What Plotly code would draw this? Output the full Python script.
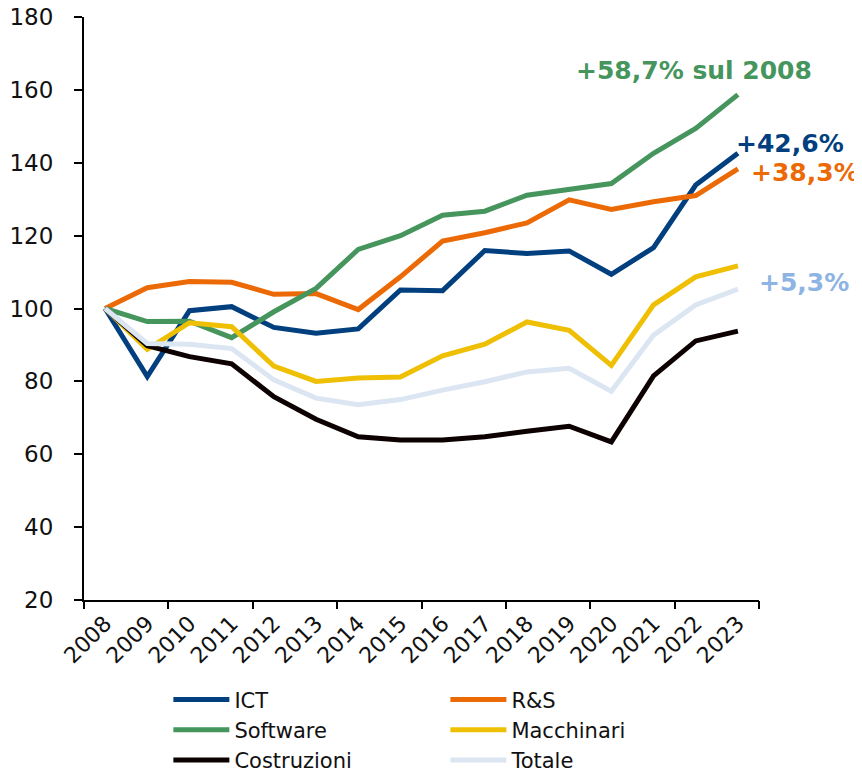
import plotly.graph_objects as go

years = ["2008", "2009", "2010", "2011", "2012", "2013", "2014", "2015",
         "2016", "2017", "2018", "2019", "2020", "2021", "2022", "2023"]

ict = [100, 81.3, 99.4, 100.5, 94.8, 93.2, 94.4, 105.1,
       104.9, 115.9, 115.1, 115.8, 109.4, 116.7, 133.9, 142.6]
rs = [100, 105.7, 107.4, 107.2, 103.9, 104.1, 99.7, 108.7,
      118.5, 120.8, 123.5, 129.8, 127.2, 129.3, 131.0, 138.3]
software = [100, 96.4, 96.5, 92.0, 99.1, 105.5, 116.2, 120.0,
            125.6, 126.7, 131.1, 132.8, 134.3, 142.6, 149.4, 158.7]
macchinari = [100, 88.8, 96.1, 95.0, 84.2, 80.0, 80.9, 81.2,
              87.0, 90.2, 96.3, 94.0, 84.4, 101.0, 108.7, 111.7]
costruzioni = [100, 89.8, 86.8, 84.8, 75.8, 69.6, 64.8, 63.9,
               63.9, 64.8, 66.3, 67.7, 63.4, 81.5, 91.1, 93.8]
totale = [100, 90.4, 90.2, 89.0, 80.4, 75.4, 73.6, 75.0,
          77.6, 79.9, 82.6, 83.6, 77.3, 92.7, 101.0, 105.3]

series = [
    ("ICT", ict, "#023F7E"),
    ("R&S", rs, "#EC6A06"),
    ("Software", software, "#45955D"),
    ("Macchinari", macchinari, "#EFBF03"),
    ("Costruzioni", costruzioni, "#0C0000"),
    ("Totale", totale, "#DCE6F2"),
]

x_idx = list(range(len(years)))
boundaries = [i - 0.5 for i in range(0, len(years) + 1, 2)]

FONT = "DejaVu Sans"
fig = go.Figure()
for name, vals, color in series:
    fig.add_trace(go.Scatter(
        x=x_idx, y=vals, name=name, mode="lines",
        line=dict(color=color, width=5),
    ))

# invisible trace so the tick-mark axis is drawn
fig.add_trace(go.Scatter(x=[None], y=[None], xaxis="x2", showlegend=False,
                         hoverinfo="skip"))

annotations = [
    dict(text="+58,7% sul 2008", x=14, y=165.4, xanchor="center",
         color="#45955D", xshift=-2),
    dict(text="+42,6%", x=15, y=145.4, xanchor="left", color="#023F7E",
         xshift=-4),
    dict(text="+38,3%", x=15, y=137.4, xanchor="left", color="#EC6A06",
         xshift=11),
    dict(text="+5,3%", x=15, y=107.0, xanchor="left", color="#8DB4E2",
         xshift=19),
]
for a in annotations:
    fig.add_annotation(
        x=a["x"], y=a["y"], xref="x", yref="y", text="<b>%s</b>" % a["text"],
        showarrow=False, xanchor=a["xanchor"], yanchor="middle",
        xshift=a["xshift"],
        font=dict(family=FONT, size=25, color=a["color"]),
    )

fig.update_layout(
    width=854, height=763,
    margin=dict(l=76, r=103, t=9, b=171, autoexpand=False),
    paper_bgcolor="white", plot_bgcolor="white",
    font=dict(family=FONT, color="#111111"),
    showlegend=True,
    legend=dict(
        orientation="h", x=0.125, y=-0.136, xanchor="left", yanchor="top",
        entrywidth=206, font=dict(family=FONT, size=21, color="#111111"),
        tracegroupgap=0, itemwidth=56,
    ),
    xaxis=dict(
        range=[-0.5, len(years) - 0.5],
        tickvals=x_idx, ticktext=years, tickangle=-45,
        ticks="", showline=True, linecolor="black", linewidth=2,
        showgrid=False, zeroline=False, automargin=False,
        tickfont=dict(family=FONT, size=22, color="#111111"),
    ),
    xaxis2=dict(
        range=[-0.5, len(years) - 0.5], overlaying="x", side="bottom",
        tickvals=boundaries, showticklabels=False,
        ticks="outside", ticklen=8, tickwidth=2, tickcolor="black",
        showline=False, showgrid=False, zeroline=False, automargin=False,
    ),
    yaxis=dict(
        range=[20, 180], tick0=20, dtick=20,
        ticks="outside", ticklen=8, tickwidth=2, tickcolor="black",
        showline=True, linecolor="black", linewidth=2,
        showgrid=False, zeroline=False, ticklabelstandoff=16,
        automargin=False, ticklabeloverflow="allow",
        tickfont=dict(family=FONT, size=23, color="#111111"),
    ),
)

fig.write_html("out.html")
